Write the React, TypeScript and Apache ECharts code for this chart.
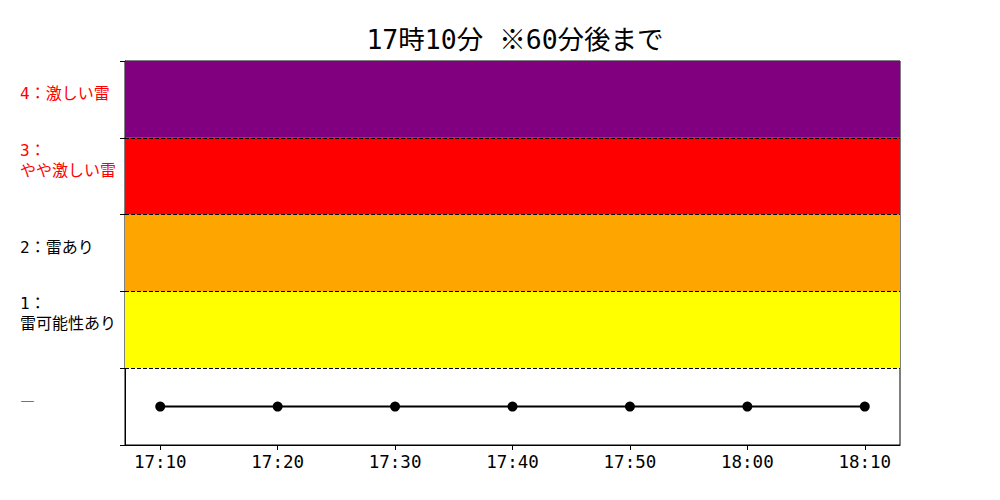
import * as echarts from 'echarts';
import { useEffect, useRef } from 'react';

const times = ['17:10', '17:20', '17:30', '17:40', '17:50', '18:00', '18:10'];
const levels = [0, 0, 0, 0, 0, 0, 0];
const levelLabels = ['―', '1：\n雷可能性あり', '2：雷あり', '3：\nやや激しい雷', '4：激しい雷'];
const bandColors = ['#ffff00', '#ffa500', '#ff0000', '#800080'];
const title = '17時10分 ※60分後まで';

const toMin = (t: string) => {
    const [h, m] = t.split(':').map(Number);
    return h * 60 + m;
};
const start = toMin(times[0]);
const offsets = times.map((t) => toMin(t) - start);
const span = offsets[offsets.length - 1];

const FONT = "'DejaVu Sans Mono', 'Noto Sans CJK JP', monospace";
const CJK = "'Noto Sans CJK JP', sans-serif";

const App = () => {
    const chartRef = useRef<HTMLDivElement>(null);

    useEffect(() => {
        if (!chartRef.current) return;
        const chart = echarts.init(chartRef.current, null, { renderer: 'svg' });

        const yLabel = (v: number) => {
            const s = levelLabels[v] ?? '';
            if (v === 0) return `{d|${s}}`;
            const style = v >= 3 ? 'r' : 'k';
            const lines = s.split('\n').map((l) => `{${style}|${l}}`);
            if (lines.length > 1) lines.push('{e| }');
            return lines.join('\n');
        };

        chart.setOption({
            animation: false,
            textStyle: { fontFamily: FONT },
            title: {
                text: title,
                left: 510,
                textAlign: 'center',
                top: 21,
                textStyle: { fontFamily: FONT, fontSize: 26.5, fontWeight: 'normal', color: '#000' },
            },
            grid: { left: 125, right: 100, top: 61, bottom: 55, show: true, borderColor: '#000', borderWidth: 1 },
            xAxis: {
                type: 'value',
                min: -span * 0.05,
                max: span * 1.05,
                axisLine: { onZero: false, lineStyle: { color: '#000' } },
                axisTick: { show: true, customValues: offsets, length: 5, lineStyle: { color: '#000' } },
                axisLabel: {
                    customValues: offsets,
                    formatter: (v: number) => times[offsets.indexOf(v)] ?? '',
                    fontFamily: FONT,
                    fontSize: 17.5,
                    color: '#000',
                    margin: 8,
                },
                splitLine: { show: false },
            },
            yAxis: {
                type: 'value',
                min: -0.5,
                max: levelLabels.length - 0.5,
                axisLine: { show: true, onZero: false, lineStyle: { color: '#000' } },
                axisTick: {
                    show: true,
                    customValues: levelLabels.map((_, i) => i - 0.5).concat([levelLabels.length - 0.5]),
                    length: 5,
                    lineStyle: { color: '#000' },
                },
                axisLabel: {
                    customValues: levelLabels.map((_, i) => i),
                    formatter: yLabel,
                    align: 'left',
                    margin: 105,
                    fontFamily: FONT,
                    fontSize: 16,
                    lineHeight: 20,
                    color: '#000',
                    padding: [0, 0, 12, 0],
                    rich: {
                        k: { color: '#000', fontFamily: FONT, fontSize: 16, lineHeight: 20 },
                        r: { color: '#ff0000', fontFamily: FONT, fontSize: 16, lineHeight: 20 },
                        e: { fontSize: 16, lineHeight: 20 },
                        d: { color: '#555', fontFamily: CJK, fontSize: 15, lineHeight: 20 },
                    },
                },
                splitLine: { show: false },
            },
            series: [
                {
                    type: 'line',
                    data: offsets.map((x, i) => [x, levels[i]]),
                    symbol: 'circle',
                    symbolSize: 10,
                    itemStyle: { color: '#000' },
                    lineStyle: { color: '#000', width: 2 },
                    z: 5,
                    markArea: {
                        silent: true,
                        data: bandColors.map((c, i) => [
                            { yAxis: i + 0.5, itemStyle: { color: c, opacity: 1 } },
                            { yAxis: i + 1.5 },
                        ]),
                    },
                    markLine: {
                        silent: true,
                        symbol: 'none',
                        label: { show: false },
                        lineStyle: { color: '#000', type: [4, 2], width: 1 },
                        data: bandColors.map((_, i) => ({ yAxis: i + 0.5 })),
                    },
                },
            ],
        });

        const onResize = () => chart.resize();
        window.addEventListener('resize', onResize);
        return () => {
            window.removeEventListener('resize', onResize);
            chart.dispose();
        };
    }, []);

    return (
        <div
            ref={chartRef}
            style={{ position: 'absolute', left: 0, top: 0, width: 1000, height: 500, background: '#fff' }}
        />
    );
};

export default App;
